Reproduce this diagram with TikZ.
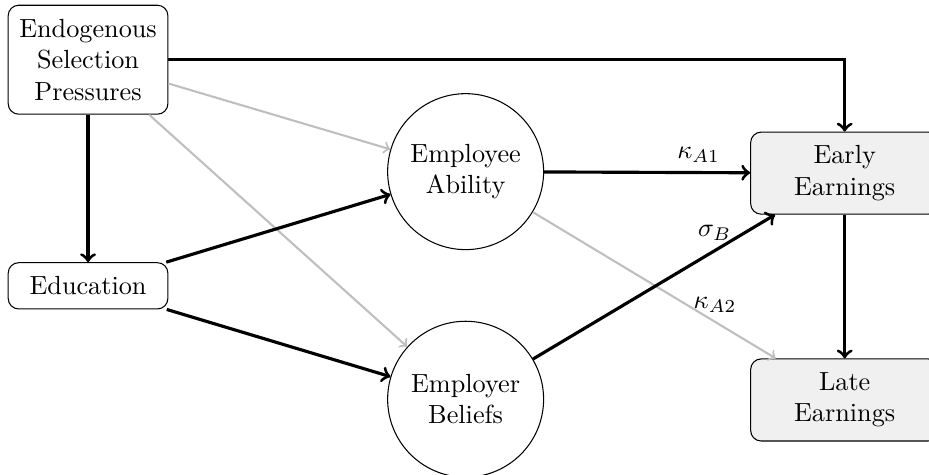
\documentclass[tikz,border=0pt]{standalone}
\usepackage{amsmath}
\usepackage{tikz}
\usepackage{xcolor}
\usetikzlibrary{positioning}
\usetikzlibrary{calc}
\usetikzlibrary{shapes,arrows}

\begin{document}
\begin{tikzpicture}[
  varbox/.style={draw,rounded corners=4pt,align=center,inner sep=2pt},
  outbox/.style={varbox,fill=gray!12,minimum width=2.52cm,minimum height=1.10cm},
  latent/.style={draw,circle,align=center,minimum size=2.09cm,inner sep=0pt},
  strong/.style={->,very thick,black},
  weak/.style={->,thick,lightgray}]
\useasboundingbox[clip] (0,0) rectangle (12.45,-6.365);

\node [varbox,minimum width=2.14cm,minimum height=1.46cm] (endo) at (1.18,-0.80) {Endogenous\\ Selection\\ Pressures};
\node [varbox,minimum width=2.14cm,minimum height=0.62cm] (educ) at (1.18,-3.83) {Education};

\node [latent] (ability) at (6.24,-2.30) {Employee\\ Ability};
\node [latent] (beliefs) at (6.24,-5.35) {Employer\\ Beliefs};

\node [outbox] (early) at (11.32,-2.32) {Early\\ Earnings};
\node [outbox] (late) at (11.32,-5.36) {Late\\ Earnings};

% selection pressures
\draw [strong] (endo.east) -| (early.north);
\draw [strong] (endo) -- (educ);
\draw [weak] (endo) -- (ability);
\draw [weak] (endo) -- (beliefs);

% education
\draw [strong] (educ) -- (ability);
\draw [strong] (educ) -- (beliefs);

% earnings
\draw [strong] (ability) -- node[pos=0.75,above] {$\kappa_{A1}$} (early);
\draw [weak] (ability) -- node[pos=0.75,above,black] {$\kappa_{A2}$} (late);
\draw [strong] (beliefs) -- node[pos=0.75,above] {$\sigma_B$} (early);
\draw [strong] (early) -- (late);

\end{tikzpicture}
\end{document}
